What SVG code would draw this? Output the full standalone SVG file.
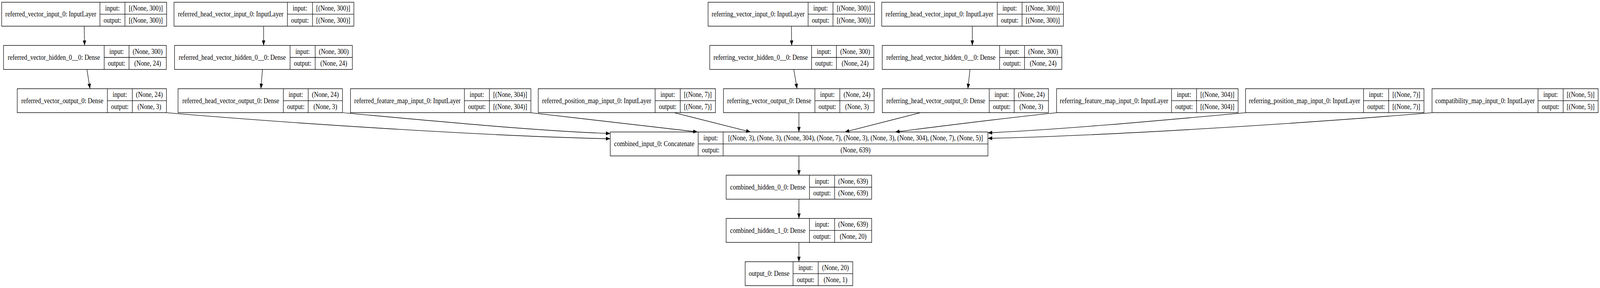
<svg xmlns="http://www.w3.org/2000/svg" width="4777" height="737" viewBox="0 0 4777 737" preserveAspectRatio="none" style="width:100vw;height:100vh;display:block">
<style>
.n rect{fill:#fff;stroke:#000;stroke-width:1.4}
.n line{stroke:#000;stroke-width:1.4}
text{font-family:"Liberation Serif","Times New Roman",serif;font-size:18.5px;text-anchor:middle;fill:#000}
.e path{fill:none;stroke:#000;stroke-width:1.4;marker-end:url(#ah)}
</style>
<defs>
<marker id="ah" markerUnits="userSpaceOnUse" markerWidth="13" markerHeight="10" viewBox="0 0 12 9.4" refX="12" refY="4.7" orient="auto">
<path d="M0,0 L12,4.7 L0,9.4 z" fill="#000"/>
</marker>
</defs>
<rect width="4777" height="737" fill="#fff"/>
<g id="referred_vector_input_0" class="n">
<rect x="5" y="5.67" width="492.5" height="61.33"/><line x1="298.3" y1="5.67" x2="298.3" y2="67"/><line x1="373" y1="5.67" x2="373" y2="67"/><line x1="298.3" y1="36.33" x2="497.5" y2="36.33"/>
<text x="151.65" y="42.33">referred_vector_input_0: InputLayer</text><text x="335.65" y="27">input:</text><text x="335.65" y="58">output:</text><text x="435.25" y="27">[(None, 300)]</text><text x="435.25" y="58">[(None, 300)]</text>
</g>
<g id="referred_head_vector_input_0" class="n">
<rect x="519.5" y="5.67" width="537" height="61.33"/><line x1="858" y1="5.67" x2="858" y2="67"/><line x1="933" y1="5.67" x2="933" y2="67"/><line x1="858" y1="36.33" x2="1056.5" y2="36.33"/>
<text x="688.75" y="42.33">referred_head_vector_input_0: InputLayer</text><text x="895.5" y="27">input:</text><text x="895.5" y="58">output:</text><text x="994.75" y="27">[(None, 300)]</text><text x="994.75" y="58">[(None, 300)]</text>
</g>
<g id="referring_vector_input_0" class="n">
<rect x="2114" y="5.67" width="497" height="61.33"/><line x1="2412.7" y1="5.67" x2="2412.7" y2="67"/><line x1="2487" y1="5.67" x2="2487" y2="67"/><line x1="2412.7" y1="36.33" x2="2611" y2="36.33"/>
<text x="2263.35" y="42.33">referring_vector_input_0: InputLayer</text><text x="2449.85" y="27">input:</text><text x="2449.85" y="58">output:</text><text x="2549" y="27">[(None, 300)]</text><text x="2549" y="58">[(None, 300)]</text>
</g>
<g id="referring_head_vector_input_0" class="n">
<rect x="2632.5" y="5.67" width="542.5" height="61.33"/><line x1="2977.4" y1="5.67" x2="2977.4" y2="67"/><line x1="3051.5" y1="5.67" x2="3051.5" y2="67"/><line x1="2977.4" y1="36.33" x2="3175" y2="36.33"/>
<text x="2804.95" y="42.33">referring_head_vector_input_0: InputLayer</text><text x="3014.45" y="27">input:</text><text x="3014.45" y="58">output:</text><text x="3113.25" y="27">[(None, 300)]</text><text x="3113.25" y="58">[(None, 300)]</text>
</g>
<g id="referred_vector_hidden_0__0" class="n">
<rect x="10.5" y="116.33" width="486" height="61.33"/><line x1="311" y1="116.33" x2="311" y2="177.67"/><line x1="385.3" y1="116.33" x2="385.3" y2="177.67"/><line x1="311" y1="147" x2="496.5" y2="147"/>
<text x="160.75" y="153">referred_vector_hidden_0__0: Dense</text><text x="348.15" y="137.67">input:</text><text x="348.15" y="168.33">output:</text><text x="440.9" y="137.67">(None, 300)</text><text x="440.9" y="168.33">(None, 24)</text>
</g>
<g id="referred_head_vector_hidden_0__0" class="n">
<rect x="521" y="116.33" width="531" height="61.33"/><line x1="866" y1="116.33" x2="866" y2="177.67"/><line x1="941" y1="116.33" x2="941" y2="177.67"/><line x1="866" y1="147" x2="1052" y2="147"/>
<text x="693.5" y="153">referred_head_vector_hidden_0__0: Dense</text><text x="903.5" y="137.67">input:</text><text x="903.5" y="168.33">output:</text><text x="996.5" y="137.67">(None, 300)</text><text x="996.5" y="168.33">(None, 24)</text>
</g>
<g id="referring_vector_hidden_0__0" class="n">
<rect x="2119" y="116.33" width="490" height="61.33"/><line x1="2423" y1="116.33" x2="2423" y2="177.67"/><line x1="2497.3" y1="116.33" x2="2497.3" y2="177.67"/><line x1="2423" y1="147" x2="2609" y2="147"/>
<text x="2271" y="153">referring_vector_hidden_0__0: Dense</text><text x="2460.15" y="137.67">input:</text><text x="2460.15" y="168.33">output:</text><text x="2553.15" y="137.67">(None, 300)</text><text x="2553.15" y="168.33">(None, 24)</text>
</g>
<g id="referring_head_vector_hidden_0__0" class="n">
<rect x="2634" y="116.33" width="536.3" height="61.33"/><line x1="2984.4" y1="116.33" x2="2984.4" y2="177.67"/><line x1="3058.8" y1="116.33" x2="3058.8" y2="177.67"/><line x1="2984.4" y1="147" x2="3170.3" y2="147"/>
<text x="2809.2" y="153">referring_head_vector_hidden_0__0: Dense</text><text x="3021.6" y="137.67">input:</text><text x="3021.6" y="168.33">output:</text><text x="3114.55" y="137.67">(None, 300)</text><text x="3114.55" y="168.33">(None, 24)</text>
</g>
<g id="referred_vector_output_0" class="n">
<rect x="51.5" y="227" width="445.5" height="61.33"/><line x1="320.6" y1="227" x2="320.6" y2="288.33"/><line x1="395" y1="227" x2="395" y2="288.33"/><line x1="320.6" y1="257.67" x2="497" y2="257.67"/>
<text x="186.05" y="263.67">referred_vector_output_0: Dense</text><text x="357.8" y="248.33">input:</text><text x="357.8" y="279">output:</text><text x="446" y="248.33">(None, 24)</text><text x="446" y="279">(None, 3)</text>
</g>
<g id="referred_head_vector_output_0" class="n">
<rect x="531.5" y="227" width="491" height="61.33"/><line x1="846" y1="227" x2="846" y2="288.33"/><line x1="920.2" y1="227" x2="920.2" y2="288.33"/><line x1="846" y1="257.67" x2="1022.5" y2="257.67"/>
<text x="688.75" y="263.67">referred_head_vector_output_0: Dense</text><text x="883.1" y="248.33">input:</text><text x="883.1" y="279">output:</text><text x="971.35" y="248.33">(None, 24)</text><text x="971.35" y="279">(None, 3)</text>
</g>
<g id="referred_feature_map_input_0" class="n">
<rect x="1046.5" y="227" width="538.5" height="61.33"/><line x1="1386.5" y1="227" x2="1386.5" y2="288.33"/><line x1="1461.2" y1="227" x2="1461.2" y2="288.33"/><line x1="1386.5" y1="257.67" x2="1585" y2="257.67"/>
<text x="1216.5" y="263.67">referred_feature_map_input_0: InputLayer</text><text x="1423.85" y="248.33">input:</text><text x="1423.85" y="279">output:</text><text x="1523.1" y="248.33">[(None, 304)]</text><text x="1523.1" y="279">[(None, 304)]</text>
</g>
<g id="referred_position_map_input_0" class="n">
<rect x="1607" y="227" width="529" height="61.33"/><line x1="1956" y1="227" x2="1956" y2="288.33"/><line x1="2031" y1="227" x2="2031" y2="288.33"/><line x1="1956" y1="257.67" x2="2136" y2="257.67"/>
<text x="1781.5" y="263.67">referred_position_map_input_0: InputLayer</text><text x="1993.5" y="248.33">input:</text><text x="1993.5" y="279">output:</text><text x="2083.5" y="248.33">[(None, 7)]</text><text x="2083.5" y="279">[(None, 7)]</text>
</g>
<g id="referring_vector_output_0" class="n">
<rect x="2160" y="227" width="449.8" height="61.33"/><line x1="2433" y1="227" x2="2433" y2="288.33"/><line x1="2507.4" y1="227" x2="2507.4" y2="288.33"/><line x1="2433" y1="257.67" x2="2609.8" y2="257.67"/>
<text x="2296.5" y="263.67">referring_vector_output_0: Dense</text><text x="2470.2" y="248.33">input:</text><text x="2470.2" y="279">output:</text><text x="2558.6" y="248.33">(None, 24)</text><text x="2558.6" y="279">(None, 3)</text>
</g>
<g id="referring_head_vector_output_0" class="n">
<rect x="2634.3" y="227" width="496" height="61.33"/><line x1="2953.5" y1="227" x2="2953.5" y2="288.33"/><line x1="3028" y1="227" x2="3028" y2="288.33"/><line x1="2953.5" y1="257.67" x2="3130.3" y2="257.67"/>
<text x="2793.9" y="263.67">referring_head_vector_output_0: Dense</text><text x="2990.75" y="248.33">input:</text><text x="2990.75" y="279">output:</text><text x="3079.15" y="248.33">(None, 24)</text><text x="3079.15" y="279">(None, 3)</text>
</g>
<g id="referring_feature_map_input_0" class="n">
<rect x="3154.5" y="227" width="542" height="61.33"/><line x1="3497.8" y1="227" x2="3497.8" y2="288.33"/><line x1="3572.5" y1="227" x2="3572.5" y2="288.33"/><line x1="3497.8" y1="257.67" x2="3696.5" y2="257.67"/>
<text x="3326.15" y="263.67">referring_feature_map_input_0: InputLayer</text><text x="3535.15" y="248.33">input:</text><text x="3535.15" y="279">output:</text><text x="3634.5" y="248.33">[(None, 304)]</text><text x="3634.5" y="279">[(None, 304)]</text>
</g>
<g id="referring_position_map_input_0" class="n">
<rect x="3718.7" y="227" width="532.8" height="61.33"/><line x1="4071" y1="227" x2="4071" y2="288.33"/><line x1="4146" y1="227" x2="4146" y2="288.33"/><line x1="4071" y1="257.67" x2="4251.5" y2="257.67"/>
<text x="3894.85" y="263.67">referring_position_map_input_0: InputLayer</text><text x="4108.5" y="248.33">input:</text><text x="4108.5" y="279">output:</text><text x="4198.75" y="248.33">[(None, 7)]</text><text x="4198.75" y="279">[(None, 7)]</text>
</g>
<g id="compatibility_map_input_0" class="n">
<rect x="4275.5" y="227" width="496" height="61.33"/><line x1="4592" y1="227" x2="4592" y2="288.33"/><line x1="4667" y1="227" x2="4667" y2="288.33"/><line x1="4592" y1="257.67" x2="4771.5" y2="257.67"/>
<text x="4433.75" y="263.67">compatibility_map_input_0: InputLayer</text><text x="4629.5" y="248.33">input:</text><text x="4629.5" y="279">output:</text><text x="4719.25" y="248.33">[(None, 5)]</text><text x="4719.25" y="279">[(None, 5)]</text>
</g>
<g id="combined_input_0" class="n">
<rect x="1822" y="337.67" width="1127.6" height="61.33"/><line x1="2084.5" y1="337.67" x2="2084.5" y2="399"/><line x1="2159" y1="337.67" x2="2159" y2="399"/><line x1="2084.5" y1="368.33" x2="2949.6" y2="368.33"/>
<text x="1953.25" y="374.33">combined_input_0: Concatenate</text><text x="2121.75" y="359">input:</text><text x="2121.75" y="389.67">output:</text><text x="2554.3" y="359">[(None, 3), (None, 3), (None, 304), (None, 7), (None, 3), (None, 3), (None, 304), (None, 7), (None, 5)]</text><text x="2554.3" y="389.67">(None, 639)</text>
</g>
<g id="combined_hidden_0_0" class="n">
<rect x="2168" y="448.33" width="434.5" height="61.33"/><line x1="2416.8" y1="448.33" x2="2416.8" y2="509.67"/><line x1="2491.8" y1="448.33" x2="2491.8" y2="509.67"/><line x1="2416.8" y1="479" x2="2602.5" y2="479"/>
<text x="2292.4" y="485">combined_hidden_0_0: Dense</text><text x="2454.3" y="469.67">input:</text><text x="2454.3" y="500.33">output:</text><text x="2547.15" y="469.67">(None, 639)</text><text x="2547.15" y="500.33">(None, 639)</text>
</g>
<g id="combined_hidden_1_0" class="n">
<rect x="2168" y="559" width="434.5" height="61.33"/><line x1="2416.8" y1="559" x2="2416.8" y2="620.33"/><line x1="2491.8" y1="559" x2="2491.8" y2="620.33"/><line x1="2416.8" y1="589.67" x2="2602.5" y2="589.67"/>
<text x="2292.4" y="595.67">combined_hidden_1_0: Dense</text><text x="2454.3" y="580.33">input:</text><text x="2454.3" y="611">output:</text><text x="2547.15" y="580.33">(None, 639)</text><text x="2547.15" y="611">(None, 20)</text>
</g>
<g id="output_0" class="n">
<rect x="2224.7" y="669.67" width="321.3" height="61.33"/><line x1="2367.8" y1="669.67" x2="2367.8" y2="731"/><line x1="2442.8" y1="669.67" x2="2442.8" y2="731"/><line x1="2367.8" y1="700.33" x2="2546" y2="700.33"/>
<text x="2296.25" y="706.33">output_0: Dense</text><text x="2405.3" y="691">input:</text><text x="2405.3" y="721.67">output:</text><text x="2494.4" y="691">(None, 20)</text><text x="2494.4" y="721.67">(None, 1)</text>
</g>
<g id="connectors" class="e">
<path d="M251.3,67 L252.5,116.33"/>
<path d="M787,67 L787,116.33"/>
<path d="M2363,67 L2363.6,116.33"/>
<path d="M2903,67 L2903,116.33"/>
<path d="M259.5,177.67 L268.7,227"/>
<path d="M783.6,177.67 L779,227"/>
<path d="M2369.9,177.67 L2379.7,227"/>
<path d="M2896,177.67 L2889.7,227"/>
<path d="M497,288.33 C900,318 1500,350 1822,355"/>
<path d="M1023.5,288.33 C1300,310 1600,335 1822,341.7"/>
<path d="M1583.7,288.33 C1750,305 1950,324 2082.5,337.67"/>
<path d="M2013,288.33 L2240.6,337.67"/>
<path d="M2385.3,288.33 L2385.3,337.67"/>
<path d="M2748,288.33 L2522.6,337.67"/>
<path d="M3154.7,288.33 C3000,302 2800,324 2672.8,337.67"/>
<path d="M3718.7,288.33 C3420,312 3170,331 2949.6,340"/>
<path d="M4275.5,288.33 C3900,315 3300,348 2949.6,354"/>
<path d="M2385.3,399 L2385.3,448.33"/>
<path d="M2385.3,509.67 L2385.3,559"/>
<path d="M2385.3,620.33 L2385.3,669.67"/>
</g>
</svg>
